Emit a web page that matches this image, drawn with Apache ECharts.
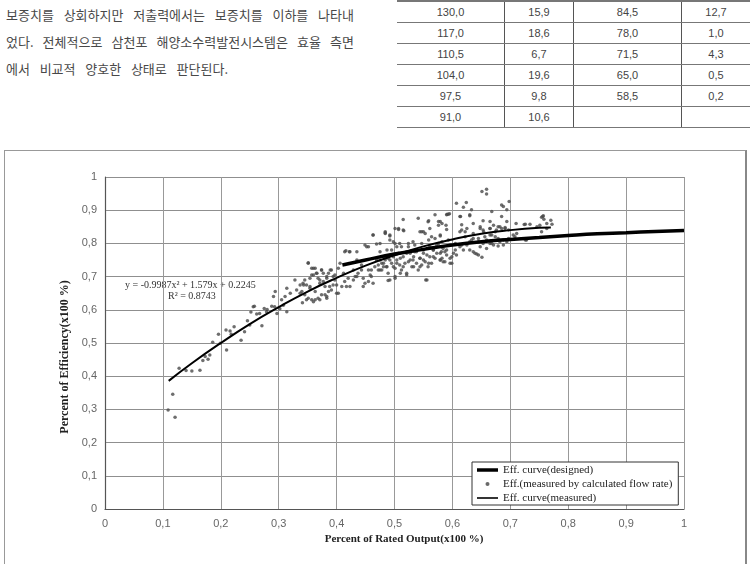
<!DOCTYPE html>
<html>
<head>
<meta charset="utf-8">
<script src="https://cdn.jsdelivr.net/npm/echarts@6/dist/echarts.min.js"></script>
<style>
  body { margin: 0; width: 751px; height: 564px; overflow: hidden; background: #fff; position: relative; }
  #para { position: absolute; left: 6px; top: 1px; font-family: "Noto Sans CJK KR"; font-size: 13px; color: #484848; }
  #para div { height: 27px; line-height: 27px; text-align: justify; text-align-last: justify; white-space: nowrap; }
  #tbl { position: absolute; left: 397px; top: 0; border-collapse: collapse; border-top: 2px solid #777;
         font-family: "Liberation Sans", sans-serif; font-size: 11px; color: #444; }
  #tbl td { height: 20px; padding: 0; text-align: center; border-bottom: 1.5px solid #777; }
  #tbl td + td { border-left: 1.5px solid #555; }
  #frame { position: absolute; left: 4px; top: 150px; width: 740px; height: 430px; border: 1.5px solid #999; border-right: 2px solid #888; }
  #chart, #gridlines { position: absolute; left: 0; top: 0; width: 751px; height: 564px; }
  /* grid layer sits on top but blends with darken, so marks keep covering it; the legend box is cut out */
  #gridlines { pointer-events: none; mix-blend-mode: darken;
               clip-path: path(evenodd, 'M0 0H751V564H0Z M471 461H680V505H471Z'); }
</style>
</head>
<body>
<div id="para"></div>
<table id="tbl"></table>
<div id="frame"></div>
<div id="chart"></div>
<div id="gridlines"></div>
<script>
// text fragment above the chart
const paraLines = [
  '보증치를 상회하지만 저출력에서는 보증치를 이하를 나타내',
  '었다. 전체적으로 삼천포 해양소수력발전시스템은 효율 측면',
  '에서 비교적 양호한 상태로 판단된다.'
];
const paraWidths = [348, 348, 222];
// table fragment (4 columns)
const tableCol1 = ['130,0', '117,0', '110,5', '104,0', '97,5', '91,0'];
const tableCol2 = ['15,9', '18,6', '6,7', '19,6', '9,8', '10,6'];
const tableCol3 = ['84,5', '78,0', '71,5', '65,0', '58,5', ''];
const tableCol4 = ['12,7', '1,0', '4,3', '0,5', '0,2', ''];
const colWidths = [107, 68, 107, 68];

const xTickLabels = ['0', '0,1', '0,2', '0,3', '0,4', '0,5', '0,6', '0,7', '0,8', '0,9', '1'];
const yTickLabels = ['0', '0,1', '0,2', '0,3', '0,4', '0,5', '0,6', '0,7', '0,8', '0,9', '1'];

const seriesNames = ['Eff. curve(designed)', 'Eff.(measured by calculated flow rate)', 'Eff. curve(measured)'];

// designed efficiency curve
const designedCurve = [
  [0.41, 0.735], [0.45, 0.750], [0.50, 0.768], [0.55, 0.782], [0.60, 0.795], [0.65, 0.805],
  [0.70, 0.812], [0.75, 0.818], [0.80, 0.824], [0.85, 0.829], [0.90, 0.832], [0.95, 0.836], [1.00, 0.839]
];
// fitted curve of measured efficiency
const measuredCurve = [
  [0.11, 0.386], [0.15, 0.439], [0.20, 0.500], [0.25, 0.557], [0.30, 0.608], [0.35, 0.655],
  [0.40, 0.696], [0.45, 0.733], [0.50, 0.764], [0.55, 0.791], [0.60, 0.812], [0.65, 0.829],
  [0.70, 0.840], [0.75, 0.847], [0.77, 0.848]
];
// measured points
const measuredPoints = [
  [0.109,0.298],[0.117,0.346],[0.121,0.276],[0.128,0.424],[0.140,0.417],[0.150,0.416],[0.164,0.418],[0.169,0.447],
  [0.173,0.459],[0.178,0.451],[0.181,0.464],[0.186,0.502],[0.196,0.526],[0.199,0.499],[0.209,0.539],[0.210,0.479],
  [0.216,0.536],[0.218,0.526],[0.223,0.549],[0.235,0.508],[0.241,0.534],[0.246,0.567],[0.250,0.554],[0.252,0.593],
  [0.258,0.611],[0.262,0.587],[0.267,0.589],[0.271,0.552],[0.275,0.604],[0.280,0.601],[0.288,0.611],[0.293,0.609],
  [0.297,0.589],[0.302,0.603],[0.308,0.614],[0.314,0.594],[0.341,0.621],
  [0.256,0.609],[0.279,0.594],[0.291,0.640],[0.294,0.655],[0.305,0.630],[0.311,0.640],[0.314,0.665],[0.320,0.650],
  [0.328,0.690],[0.331,0.660],[0.337,0.650],[0.343,0.675],[0.345,0.690],[0.351,0.740],[0.354,0.670],[0.357,0.705],
  [0.360,0.725],[0.348,0.630],[0.360,0.624],[0.371,0.630],[0.383,0.640],[0.366,0.710],[0.371,0.690],[0.374,0.720],
  [0.380,0.670],[0.383,0.700],[0.389,0.720],[0.394,0.675],[0.397,0.705],[0.400,0.650],[0.403,0.725],[0.406,0.740],
  [0.412,0.710],[0.416,0.778],[0.422,0.775],[0.417,0.670],[0.429,0.720],[0.432,0.700],[0.435,0.750],[0.443,0.735],
  [0.446,0.670],[0.452,0.790],[0.455,0.720],[0.460,0.700],[0.463,0.825],[0.469,0.750],[0.472,0.720],[0.475,0.800],
  [0.481,0.730],[0.484,0.835],[0.487,0.780],[0.489,0.755],[0.492,0.810],[0.498,0.730],[0.501,0.700],[0.504,0.790],
  [0.507,0.845],
  [0.351,0.742],[0.357,0.725],[0.363,0.725],[0.365,0.710],[0.360,0.705],[0.354,0.695],[0.368,0.695],[0.374,0.720],
  [0.377,0.710],[0.371,0.680],[0.377,0.685],[0.383,0.695],[0.386,0.710],[0.391,0.720],[0.394,0.700],[0.397,0.690],
  [0.388,0.670],[0.386,0.655],[0.380,0.645],[0.368,0.635],[0.363,0.630],[0.357,0.630],[0.351,0.635],[0.345,0.645],
  [0.340,0.655],[0.337,0.675],[0.342,0.680],[0.348,0.675],[0.354,0.665],[0.363,0.655],[0.374,0.645],[0.383,0.635],
  [0.391,0.660],[0.400,0.675],[0.403,0.650],[0.409,0.670],[0.414,0.685],[0.420,0.695],[0.423,0.670],[0.429,0.690],
  [0.435,0.700],[0.437,0.710],[0.443,0.720],[0.446,0.695],[0.449,0.680],[0.455,0.685],[0.458,0.705],[0.460,0.720],
  [0.463,0.680],[0.466,0.730],[0.472,0.735],[0.475,0.720],[0.478,0.740],[0.484,0.750],[0.486,0.730],[0.489,0.710],
  [0.492,0.690],[0.495,0.740],[0.501,0.725],[0.504,0.750],[0.507,0.770],[0.509,0.735],[0.512,0.720],[0.515,0.760],
  [0.518,0.740],[0.521,0.710],[0.524,0.745],[0.527,0.770],[0.530,0.730],[0.532,0.750],[0.535,0.775],[0.538,0.740],
  [0.541,0.720],[0.544,0.755],[0.547,0.735],[0.550,0.770],[0.553,0.745],[0.556,0.690],[0.558,0.730],[0.561,0.760],
  [0.564,0.740],[0.567,0.780],[0.570,0.755],[0.573,0.770],[0.576,0.800],[0.579,0.750],[0.581,0.775],[0.584,0.745],
  [0.414,0.775],[0.423,0.775],[0.435,0.775],[0.449,0.795],[0.455,0.790],[0.463,0.825],[0.469,0.798],[0.475,0.775],
  [0.484,0.830],[0.492,0.825],[0.501,0.845],[0.509,0.800],[0.515,0.840],[0.524,0.790],[0.532,0.805],[0.547,0.835],
  [0.553,0.830],[0.558,0.865],[0.564,0.820],[0.576,0.855],[0.579,0.825],[0.581,0.790],
  [0.651,0.956],[0.659,0.963],[0.659,0.949],[0.607,0.921],[0.624,0.923],[0.619,0.909],[0.591,0.888],[0.595,0.889],
  [0.579,0.866],[0.589,0.855],[0.590,0.842],[0.614,0.881],[0.633,0.901],[0.630,0.883],[0.636,0.860],[0.653,0.868],
  [0.668,0.896],[0.665,0.866],[0.671,0.855],[0.685,0.916],[0.688,0.911],[0.698,0.926],[0.694,0.901],[0.685,0.881],
  [0.694,0.866],[0.616,0.840],[0.622,0.835],[0.648,0.845],[0.653,0.840],[0.665,0.845],[0.679,0.850],[0.685,0.845],
  [0.691,0.848],[0.676,0.840],[0.710,0.860],[0.724,0.857],[0.734,0.858],[0.751,0.855],[0.756,0.881],[0.758,0.873],
  [0.763,0.860],[0.770,0.870],[0.772,0.858],[0.763,0.845],[0.746,0.850],[0.711,0.830],[0.705,0.825],[0.728,0.810],
  [0.697,0.815],[0.682,0.805],[0.674,0.820],[0.665,0.825],[0.659,0.810],[0.653,0.800],[0.645,0.805],[0.636,0.815],
  [0.630,0.805],[0.625,0.795],[0.613,0.790],[0.605,0.780],[0.607,0.765],[0.596,0.755],[0.599,0.740],[0.587,0.775],
  [0.590,0.765],[0.582,0.755],[0.582,0.790],[0.636,0.775],[0.639,0.770],[0.645,0.765],[0.651,0.758],[0.630,0.780],
  [0.619,0.780],[0.616,0.795],[0.671,0.795],[0.679,0.792],[0.688,0.795],[0.694,0.805],[0.665,0.800],[0.659,0.785],
  [0.648,0.790],
  [0.484,0.832],[0.492,0.822],[0.498,0.805],[0.507,0.842],[0.515,0.872],[0.516,0.838],[0.541,0.876],[0.559,0.868],
  [0.544,0.835],[0.550,0.835],[0.561,0.845],[0.570,0.886],[0.576,0.866],[0.582,0.860],[0.590,0.886],[0.593,0.888],
  [0.579,0.822],[0.613,0.881],[0.616,0.856],[0.630,0.886],
  [0.489,0.688],[0.501,0.695],[0.510,0.710],[0.521,0.705],[0.533,0.730],[0.544,0.730],[0.554,0.690],[0.550,0.750],
  [0.559,0.740],[0.567,0.760],[0.579,0.750],[0.587,0.745],[0.596,0.740],[0.599,0.760],[0.642,0.768],[0.668,0.800],
  [0.475,0.750],[0.481,0.740],[0.487,0.730],[0.492,0.750],[0.498,0.760],[0.504,0.740],[0.510,0.755],[0.515,0.730],
  [0.521,0.770],[0.527,0.750],[0.533,0.760],[0.538,0.775],[0.544,0.755],[0.550,0.780],[0.556,0.765],[0.561,0.790],
  [0.567,0.780],[0.573,0.795],[0.579,0.770],[0.584,0.785],[0.590,0.780],[0.596,0.795],[0.602,0.770],[0.478,0.720],
  [0.484,0.760],[0.495,0.780],[0.501,0.800],[0.512,0.790],[0.524,0.800],[0.535,0.795],[0.547,0.800],[0.559,0.810],
  [0.570,0.815],[0.582,0.805],[0.593,0.810],[0.605,0.800],
  [0.613,0.835],[0.625,0.845],[0.636,0.830],[0.648,0.850],[0.654,0.835],[0.665,0.845],[0.674,0.835],[0.682,0.850],
  [0.691,0.845],[0.697,0.840],[0.622,0.820],[0.633,0.810],[0.645,0.815],[0.656,0.820],[0.668,0.825],[0.679,0.815],
  [0.688,0.810],[0.726,0.858],[0.754,0.879],[0.757,0.883],[0.754,0.835],[0.708,0.820],[0.726,0.810]
];

document.getElementById('para').innerHTML = paraLines
  .map((t, i) => `<div style="width:${paraWidths[i]}px">${t}</div>`).join('');

const tbl = document.getElementById('tbl');
tableCol1.forEach((v, i) => {
  const cells = [v, tableCol2[i], tableCol3[i], tableCol4[i]];
  tbl.insertAdjacentHTML('beforeend',
    '<tr>' + cells.map((c, j) => `<td style="width:${colWidths[j]}px">${c}</td>`).join('') + '</tr>');
});

const serif = '"Liberation Serif", "Times New Roman", serif';
const plotGrid = { left: 105, top: 177, width: 579, height: 332 };

const chart = echarts.init(document.getElementById('chart'));
chart.setOption({
  animation: false,
  grid: plotGrid,
  legend: {
    orient: 'vertical',
    left: 472, top: 462,
    backgroundColor: '#fff', borderColor: '#333', borderWidth: 1,
    padding: [2, 6, 1, 5],
    itemWidth: 21, itemHeight: 4, itemGap: 2,
    textStyle: { fontFamily: serif, fontSize: 11, color: '#222', lineHeight: 12 },
    data: [
      { name: seriesNames[0], icon: 'path://M0,0H21V3.5H0Z', itemStyle: { color: '#000' } },
      { name: seriesNames[1], icon: 'circle', itemStyle: { color: '#444' } },
      { name: seriesNames[2], icon: 'path://M0,0H21V1.6H0Z', itemStyle: { color: '#000' } }
    ]
  },
  xAxis: {
    type: 'value', min: 0, max: 1, interval: 0.1,
    name: 'Percent of Rated Output(x100 %)', nameLocation: 'middle', nameGap: 22,
    nameTextStyle: { fontFamily: serif, fontWeight: 'bold', fontSize: 11, color: '#222', padding: [0, 0, 0, 19] },
    axisLine: { lineStyle: { color: '#555', width: 1.2 } },
    axisTick: { show: false },
    axisLabel: { color: '#666', fontSize: 11, fontFamily: 'Liberation Sans', margin: 9,
      formatter: v => xTickLabels[Math.round(v * 10)] },
    splitLine: { show: true, lineStyle: { color: '#999', width: 1 } }
  },
  yAxis: {
    type: 'value', min: 0, max: 1, interval: 0.1,
    name: 'Percent of Efficiency(x100 %)', nameLocation: 'middle', nameGap: 30,
    nameTextStyle: { fontFamily: serif, fontWeight: 'bold', fontSize: 12, color: '#222', padding: [0, 28, 0, 0] },
    axisLine: { show: true, lineStyle: { color: '#555', width: 1.2 } },
    axisTick: { show: false },
    axisLabel: { color: '#666', fontSize: 11, fontFamily: 'Liberation Sans', margin: 8,
      formatter: v => yTickLabels[Math.round(v * 10)] },
    splitLine: { show: true, lineStyle: { color: '#999', width: 1 } }
  },
  graphic: [
    { type: 'text', left: 125, top: 280, silent: true,
      style: { text: 'y = -0.9987x² + 1.579x + 0.2245', font: '10px ' + serif, fill: '#333' } },
    { type: 'text', left: 168, top: 291, silent: true,
      style: { text: 'R² = 0.8743', font: '10px ' + serif, fill: '#333' } }
  ],
  series: [
    {
      name: seriesNames[0], type: 'line', data: designedCurve, smooth: true,
      symbol: 'none', lineStyle: { color: '#000', width: 3.5 }, z: 3
    },
    {
      name: seriesNames[1], type: 'scatter', data: measuredPoints,
      symbolSize: 3.5, itemStyle: { color: '#4a4a4a' }, z: 2
    },
    {
      name: seriesNames[2], type: 'line', data: measuredCurve, smooth: true,
      symbol: 'none', lineStyle: { color: '#000', width: 2 }, z: 4
    }
  ]
});

// plain grid layer with the same axes, only split lines shown
const gridChart = echarts.init(document.getElementById('gridlines'));
const gridAxis = {
  type: 'value', min: 0, max: 1, interval: 0.1,
  axisLine: { show: false }, axisTick: { show: false }, axisLabel: { show: false },
  splitLine: { show: true, lineStyle: { color: '#999', width: 1 } }
};
gridChart.setOption({
  animation: false,
  grid: plotGrid,
  xAxis: gridAxis,
  yAxis: Object.assign({}, gridAxis, { splitLine: { show: true, lineStyle: { color: '#8f8f8f', width: 1 } } }),
  series: [{ type: 'scatter', data: [], silent: true }]
});
</script>
</body>
</html>
